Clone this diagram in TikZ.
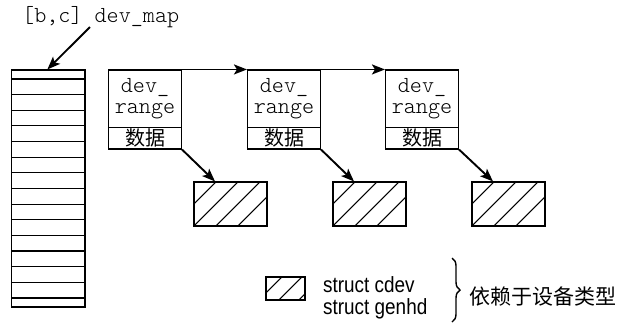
\documentclass[tikz,border=0pt]{standalone}
\usepackage{fontspec}
\setmainfont{Liberation Serif}
\setmonofont{Latin Modern Mono Light}
\setsansfont{Liberation Sans}
\newfontfamily\cjk{Noto Sans CJK SC}
\usetikzlibrary{arrows.meta,calc,decorations.pathreplacing}
\begin{document}
\begin{tikzpicture}[x=1pt,y=-1pt,
  boxline/.style={draw=black,line width=1.1pt},
  colbox/.style={boxline,minimum width=73.3pt,minimum height=237pt,inner sep=0pt},
  rbox/.style={boxline,minimum width=73pt,minimum height=79pt,inner sep=0pt},
  hbox/.style={boxline,minimum width=73pt,minimum height=44pt,inner sep=0pt},
  lbox/.style={boxline,minimum width=39pt,minimum height=23pt,inner sep=0pt},
  hatch/.style={line width=1pt},
  arr/.style={line width=1.9pt,-{Stealth[length=13pt,width=10pt,inset=3pt]}},
  mono/.style={font=\fontsize{23}{24}\selectfont\ttfamily,inner sep=0pt},
  cjktext/.style={font=\fontsize{20}{22}\selectfont\cjk,inner sep=0pt},
  legtext/.style={font=\fontsize{22}{22}\selectfont\sffamily,inner sep=0pt}
]
\useasboundingbox (0,0) rectangle (618,325);

% dev_map column
\node[colbox] (col) at (48.35,188.5) {};
\foreach \k in {0,...,14}
  \draw[line width=1.1pt] (col.west |- 0,{79+15.64*\k}) -- (col.east |- 0,{79+15.64*\k});

% label and arrow
\node[mono,anchor=base west] (maplabel) at (22,22) {[b,c] dev\_map};
\coordinate (mapstart) at (90,27);
\draw[arr] (mapstart) -- ([xshift=-1pt]col.north);

% dev_range boxes
\foreach \i/\cx in {1/145,2/284,3/422}{
  \node[rbox] (r\i) at (\cx,109.5) {};
  \draw[line width=1.1pt] ([yshift=22pt]r\i.south west) -- ([yshift=22pt]r\i.south east);
  \node[mono,anchor=base] (r\i a) at (\cx,92) {dev\_};
  \node[mono,anchor=base] (r\i b) at (\cx,113) {range};
  \node[cjktext] (r\i c) at (\cx,138) {数据};
}

% hatched boxes
\foreach \i/\cx in {1/230.5,2/369.5,3/508.5}{
  \node[hbox] (h\i) at (\cx,204) {};
  \begin{scope}
    \clip (h\i.south west) rectangle (h\i.north east);
    \foreach \k in {-2,...,3}
      \draw[hatch] ($(h\i.north west)+({23+22*\k},0)$) -- ++(-60,60);
  \end{scope}
}

% arrows
\draw[arr] (r1.north east) -- (r2.north west);
\draw[arr] (r2.north east) -- (r3.north west);
\draw[arr] (r1.south east) -- ([xshift=-15.5pt]h1.north);
\draw[arr] (r2.south east) -- ([xshift=-15.5pt]h2.north);
\draw[arr] (r3.south east) -- ([xshift=-15.5pt]h3.north);

% legend
\node[lbox] (lg) at (285.5,288.5) {};
\begin{scope}
  \clip (lg.south west) rectangle (lg.north east);
  \foreach \k in {-1,...,2}
    \draw[hatch] ($(lg.north west)+({17+20*\k},0)$) -- ++(-40,40);
\end{scope}
\node[legtext,anchor=base west] (lt1) at (323,292) {\scalebox{0.86}[1]{struct cdev}};
\node[legtext,anchor=base west] (lt2) at (323,314) {\scalebox{0.86}[1]{struct genhd}};
\coordinate (bt) at (452,258);
\coordinate (bb) at (452,322);
\draw[line width=1.4pt,decorate,decoration={brace,amplitude=8pt}] (bt) -- (bb);
\node[cjktext,anchor=west,font=\fontsize{21}{22}\selectfont\cjk] (dep) at (469,297) {依赖于设备类型};
\end{tikzpicture}
\end{document}
